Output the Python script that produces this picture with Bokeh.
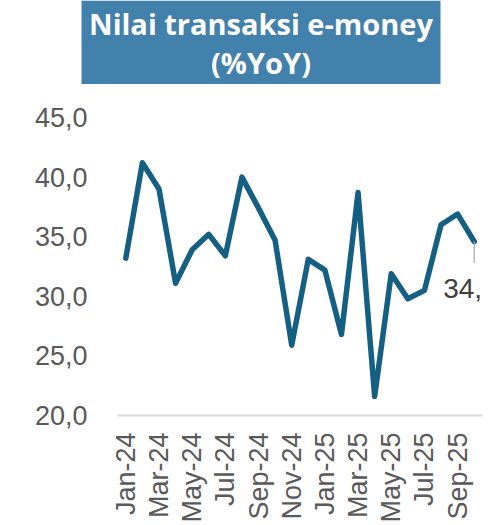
import math
from bokeh.plotting import figure
from bokeh.layouts import column
from bokeh.core.properties import value
from bokeh.models import Label, FixedTicker, CustomJSTickFormatter, Range1d
from bokeh.embed import file_html
from bokeh.resources import INLINE

months = ["Jan-24", "Feb-24", "Mar-24", "Apr-24", "May-24", "Jun-24", "Jul-24", "Aug-24",
          "Sep-24", "Oct-24", "Nov-24", "Dec-24", "Jan-25", "Feb-25", "Mar-25", "Apr-25",
          "May-25", "Jun-25", "Jul-25", "Aug-25", "Sep-25", "Oct-25"]
values = [33.2, 41.2, 39.0, 31.1, 33.9, 35.2, 33.4, 40.0, 37.4, 34.7, 25.9,
          33.1, 32.2, 26.8, 38.7, 21.6, 31.9, 29.8, 30.5, 36.0, 36.9, 34.6]
y_ticks = [20, 25, 30, 35, 40, 45]
title_lines = ["Nilai transaksi e-money", "(%YoY)"]

W = 489
TITLE_H = 84

# ---------- title header (box + two centered lines) ----------
t = figure(width=W, height=TITLE_H, output_backend="svg", toolbar_location=None,
           x_range=Range1d(0, W), y_range=Range1d(0, TITLE_H),
           min_border=0, x_axis_type=None, y_axis_type=None)
t.frame_align = False
t.outline_line_color = None
t.xgrid.visible = False
t.ygrid.visible = False
t.quad(left=[81], right=[440], bottom=[0], top=[TITLE_H],
       fill_color="#4281AB", line_color=None)
t.text(x=[260.5, 260.5], y=[61, 22.5], text=title_lines,
       text_font=value("Open Sans"), text_font_style="bold", text_font_size="29px",
       text_color="white", text_align="center", text_baseline="middle")

# ---------- chart ----------
x = list(range(len(months)))

p = figure(width=W, height=525 - TITLE_H, output_backend="svg", toolbar_location=None,
           x_range=Range1d(-0.5, len(months) - 0.5), y_range=Range1d(20, 45),
           min_border_left=117, min_border_right=7, min_border_top=33, min_border_bottom=109)
p.frame_align = False
p.outline_line_color = None
p.xgrid.visible = False
p.ygrid.visible = False
p.background_fill_color = "white"
p.border_fill_color = "white"

p.line(x, values, line_color="#156082", line_width=5.5, line_join="round", line_cap="round")

# leader line for last data label
last_x = x[-1]
last_y = values[-1]
p.segment(x0=[last_x], y0=[last_y], x1=[last_x], y1=[last_y - 1.8],
          line_color="#A6A6A6", line_width=1.2)

lbl = Label(x=last_x, y=last_y, x_offset=-31, y_offset=-47,
            text=f"{last_y:.1f}".replace(".", ","), text_font="Liberation Sans",
            text_font_size="28px", text_color="#404040", text_baseline="middle", text_align="left")
p.add_layout(lbl)

# y axis
p.yaxis.ticker = FixedTicker(ticks=y_ticks)
p.yaxis.formatter = CustomJSTickFormatter(code="return tick.toFixed(1).replace('.', ',');")
p.yaxis.axis_line_color = None
p.yaxis.major_tick_line_color = None
p.yaxis.minor_tick_line_color = None
p.yaxis.major_tick_out = 0
p.yaxis.major_tick_in = 0
p.yaxis.minor_tick_out = 0
p.yaxis.major_label_standoff = 30
p.yaxis.major_label_text_font = "Liberation Sans"
p.yaxis.major_label_text_font_size = "27px"
p.yaxis.major_label_text_color = "#595959"

# x axis
p.xaxis.ticker = FixedTicker(ticks=x[::2])
p.xaxis.formatter = CustomJSTickFormatter(args=dict(months=months),
                                          code="return months[Math.round(tick)] || '';")
p.xaxis.axis_line_color = "#D9D9D9"
p.xaxis.axis_line_width = 2
p.xaxis.major_tick_line_color = None
p.xaxis.minor_tick_line_color = None
p.xaxis.major_tick_out = 0
p.xaxis.major_tick_in = 0
p.xaxis.minor_tick_out = 0
p.xaxis.major_label_orientation = math.pi / 2
p.xaxis.major_label_standoff = 17
p.xaxis.major_label_text_font = "Liberation Sans"
p.xaxis.major_label_text_font_size = "27px"
p.xaxis.major_label_text_color = "#595959"

layout = column(t, p, spacing=0)
open("out.html", "w").write(file_html(layout, INLINE))
